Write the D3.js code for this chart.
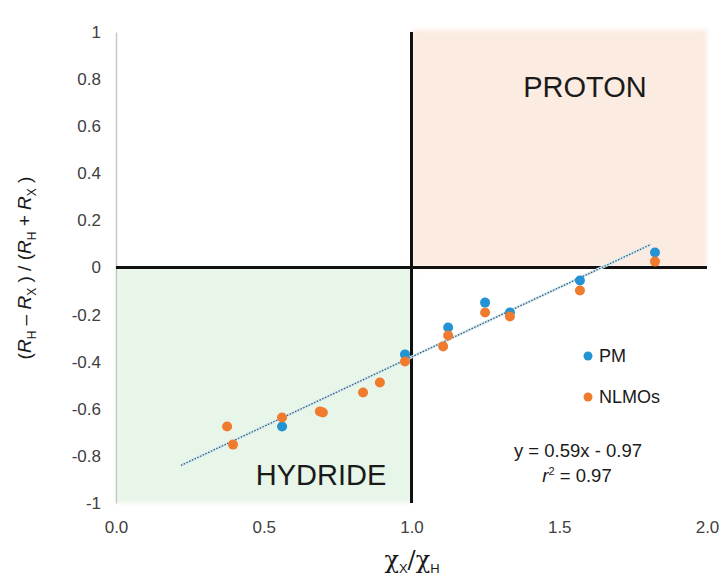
<!DOCTYPE html>
<html>
<head>
<meta charset="utf-8">
<script src="https://cdn.jsdelivr.net/npm/d3@7"></script>
<style>
  html, body { margin: 0; padding: 0; background: #ffffff; }
  svg { display: block; font-family: "Liberation Sans", Arial, sans-serif; }
</style>
</head>
<body>
<svg id="chart" width="721" height="579"></svg>
<script>
// ---- data ----
const nlmoX = [0.376, 0.396, 0.562, 0.690, 0.700, 0.836, 0.893, 0.978, 1.107, 1.124, 1.249, 1.333, 1.570, 1.824];
const nlmoY = [-0.675, -0.752, -0.637, -0.611, -0.616, -0.531, -0.488, -0.399, -0.335, -0.289, -0.191, -0.208, -0.098, 0.025];
const pmX = [0.562, 0.978, 1.124, 1.249, 1.333, 1.570, 1.824];
const pmY = [-0.675, -0.369, -0.255, -0.149, -0.191, -0.055, 0.064];
const trendSlope = 0.59;
const trendIntercept = -0.97;
const trendRange = [0.22, 1.81];
const xTicks = [0, 0.5, 1.0, 1.5, 2.0];
const yTicks = [1, 0.8, 0.6, 0.4, 0.2, 0, -0.2, -0.4, -0.6, -0.8, -1];
const seriesNames = ["PM", "NLMOs"];
const colors = {PM: "#2393d4", NLMOs: "#f07b2e"};

// ---- scales ----
const svg = d3.select("#chart");
const x = d3.scaleLinear().domain([0, 2]).range([116, 707]);
const y = d3.scaleLinear().domain([-1, 1]).range([503, 32]);

// ---- quadrant shading ----
const defs = svg.append("defs");
defs.append("filter").attr("id", "soft").attr("x", "-5%").attr("y", "-5%").attr("width", "110%").attr("height", "110%")
  .append("feGaussianBlur").attr("stdDeviation", 2);

svg.append("rect")
  .attr("x", x(1)).attr("y", y(1) - 2)
  .attr("width", x(2) - x(1)).attr("height", y(0) - y(1) + 2)
  .attr("fill", "#fcebe1").attr("filter", "url(#soft)");
svg.append("rect")
  .attr("x", x(0)).attr("y", y(0))
  .attr("width", x(1) - x(0)).attr("height", y(-1) - y(0))
  .attr("fill", "#e8f5e9").attr("filter", "url(#soft)");

// ---- axes ----
const yAxis = d3.axisLeft(y).tickValues(yTicks).tickSize(0).tickPadding(15)
  .tickFormat(d => d === 0 ? "0" : String(+d.toFixed(1)));
const gy = svg.append("g").attr("transform", `translate(${x(0)},0)`).call(yAxis);
gy.select(".domain").attr("stroke", "#c8c8c8").attr("stroke-width", 1.5);
gy.selectAll("text").attr("font-size", 17).attr("fill", "#404040")
  .attr("font-family", "Liberation Sans, Arial, sans-serif");

const xAxis = d3.axisBottom(x).tickValues(xTicks).tickSize(0).tickPadding(18)
  .tickFormat(d3.format(".1f"));
const gx = svg.append("g").attr("transform", `translate(0,${y(-1)})`).call(xAxis);
gx.select(".domain").remove();
gx.selectAll("text").attr("font-size", 17).attr("fill", "#404040")
  .attr("font-family", "Liberation Sans, Arial, sans-serif");

// ---- quadrant dividing lines ----
svg.append("line")
  .attr("x1", x(0)).attr("x2", x(2)).attr("y1", y(0)).attr("y2", y(0))
  .attr("stroke", "#111").attr("stroke-width", 3);
svg.append("line")
  .attr("x1", x(1)).attr("x2", x(1)).attr("y1", y(1)).attr("y2", y(-1))
  .attr("stroke", "#111").attr("stroke-width", 3);

// ---- region labels ----
svg.append("text").attr("x", 585).attr("y", 97).attr("text-anchor", "middle")
  .attr("font-size", 29).attr("fill", "#1a1a1a").text("PROTON");
svg.append("text").attr("x", 321).attr("y", 485).attr("text-anchor", "middle")
  .attr("font-size", 29).attr("fill", "#1a1a1a").text("HYDRIDE");

// ---- trendline ----
const trendPts = trendRange.map(v => [x(v), y(trendSlope * v + trendIntercept)]);
svg.append("path").attr("d", d3.line()(trendPts))
  .attr("stroke", "#cdeaf5").attr("stroke-width", 3).attr("fill", "none");
svg.append("path").attr("d", d3.line()(trendPts))
  .attr("stroke", "#45525e").attr("stroke-width", 1.2).attr("stroke-dasharray", "1.5,1.5").attr("fill", "none");

// ---- points ----
const pmData = pmX.map((v, i) => ({x: v, y: pmY[i]}));
const nlmoData = nlmoX.map((v, i) => ({x: v, y: nlmoY[i]}));
svg.append("g").selectAll("circle").data(pmData).join("circle")
  .attr("cx", d => x(d.x)).attr("cy", d => y(d.y)).attr("r", 5)
  .attr("fill", colors.PM);
svg.append("g").selectAll("circle").data(nlmoData).join("circle")
  .attr("cx", d => x(d.x)).attr("cy", d => y(d.y)).attr("r", 5)
  .attr("fill", colors.NLMOs);

// ---- legend ----
const legend = svg.append("g");
seriesNames.forEach((name, i) => {
  const ly = 356 + i * 41;
  legend.append("circle").attr("cx", 588).attr("cy", ly).attr("r", 4.5).attr("fill", colors[name]);
  legend.append("text").attr("x", 599).attr("y", ly + 6).attr("font-size", 18)
    .attr("fill", "#1a1a1a").text(name);
});

// ---- equation ----
svg.append("text").attr("x", 578).attr("y", 457).attr("text-anchor", "middle")
  .attr("font-size", 18.5).attr("fill", "#1a1a1a").text("y = 0.59x - 0.97");
const r2 = svg.append("text").attr("x", 577).attr("y", 482).attr("text-anchor", "middle")
  .attr("font-size", 18.5).attr("fill", "#1a1a1a");
r2.append("tspan").attr("font-style", "italic").text("r");
r2.append("tspan").attr("font-size", 11).attr("dy", -7).text("2");
r2.append("tspan").attr("dy", 7).text(" = 0.97");

// ---- axis titles ----
const xt = svg.append("text").attr("x", 412).attr("y", 568).attr("text-anchor", "middle")
  .attr("font-size", 24).attr("fill", "#1a1a1a").attr("font-family", "DejaVu Serif, serif");
xt.append("tspan").text("χ");
xt.append("tspan").attr("font-size", 13).attr("dy", 5).attr("font-family", "Liberation Sans, Arial, sans-serif").text("X");
xt.append("tspan").attr("dy", -5).text("/χ");
xt.append("tspan").attr("font-size", 13).attr("dy", 5).attr("font-family", "Liberation Sans, Arial, sans-serif").text("H");

const yt = svg.append("text").attr("transform", "translate(31,268) rotate(-90)")
  .attr("text-anchor", "middle").attr("font-size", 19).attr("fill", "#1a1a1a");
const parts = [
  ["(", null], ["R", "i"], ["H", "s"], [" – ", null], ["R", "i"], ["X", "s"], [" ) / (", null],
  ["R", "i"], ["H", "s"], [" + ", null], ["R", "i"], ["X", "s"], [" )", null]
];
let shifted = false;
parts.forEach(([t, k]) => {
  const ts = yt.append("tspan").text(t);
  if (k === "i") ts.attr("font-style", "italic");
  if (k === "s") { ts.attr("font-size", 12).attr("dy", 5); shifted = true; }
  else if (shifted) { ts.attr("dy", -5); shifted = false; }
});
</script>
</body>
</html>
